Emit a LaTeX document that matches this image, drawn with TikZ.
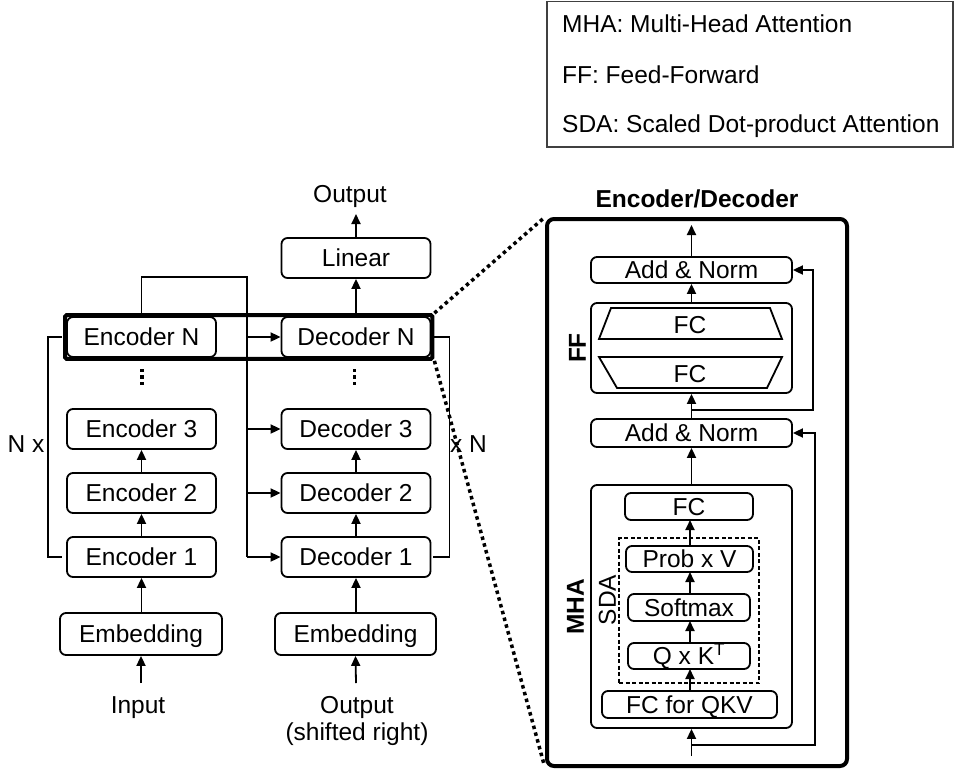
\documentclass[tikz,border=0pt]{standalone}
\usepackage{fontspec}
\setmainfont{Liberation Sans}
\usetikzlibrary{arrows.meta,fit}

\begin{document}
\begin{tikzpicture}[x=1pt,y=-1pt,
  font=\fontsize{24.5}{29}\selectfont,
  box/.style={draw, line width=1.8pt, rounded corners=6pt, inner sep=0pt,
              text height=17.5pt, text depth=0pt},
  stackbox/.style={box, minimum width=149pt, minimum height=40pt},
  embbox/.style={box, minimum width=162pt, minimum height=42pt},
  arr/.style={line width=1.8pt, -{Triangle[length=10pt,width=9pt]}},
  ln/.style={line width=1.8pt},
  zoomline/.style={line width=3.5pt, dash pattern=on 3.5pt off 3.5pt},
  lbl/.style={inner sep=0pt, anchor=base},
  rot/.style={inner sep=0pt, rotate=90, text height=17.5pt, text depth=0pt},
  legendtext/.style={inner sep=0pt, anchor=base west}]

\useasboundingbox (0,0) rectangle (954,772);

% ---------- legend ----------
\draw[line width=1.5pt, draw=black!75] (547,1.5) rectangle (953,147);
\node[legendtext] (lg1) at (562,32)  {MHA: Multi-Head Attention};
\node[legendtext] (lg2) at (562,83)  {FF: Feed-Forward};
\node[legendtext] (lg3) at (562,132) {SDA: Scaled Dot-product Attention};

% ---------- encoder stack ----------
\node[stackbox] (encN) at (141.5,337) {Encoder N};
\node[stackbox] (enc3) at (141.5,429) {Encoder 3};
\node[stackbox] (enc2) at (141.5,493) {Encoder 2};
\node[stackbox] (enc1) at (141.5,557) {Encoder 1};
\node[embbox]   (embL) at (141,634)   {Embedding};
\coordinate (inL) at (141,683);
\node[lbl] (input) at (138,713) {Input};

\draw[arr] (inL) -- (embL.south);
\draw[arr] (embL.north -| enc1.south) -- (enc1.south);
\draw[arr] (enc1) -- (enc2);
\draw[arr] (enc2) -- (enc3);

\foreach \yy in {370.5,377,383.5}
  \fill (140.3,\yy-1.6) rectangle (143.5,\yy+1.6);

% ---------- decoder stack ----------
\node[stackbox] (decN) at (356,337) {Decoder N};
\node[stackbox] (dec3) at (356,429) {Decoder 3};
\node[stackbox] (dec2) at (356,493) {Decoder 2};
\node[stackbox] (dec1) at (356,557) {Decoder 1};
\node[embbox, minimum width=161pt] (embR) at (355.5,634) {Embedding};
\node[stackbox] (linear) at (356,258) {Linear};
\coordinate (inR) at (356,683);
\coordinate (outL) at (356,214);
\node[lbl] (outtxt) at (350,202) {Output};
\node[lbl] (shift1) at (357,713) {Output};
\node[lbl] (shift2) at (357,740) {(shifted right)};

\draw[arr] (inR) -- (embR.south);
\draw[arr] (embR.north -| dec1.south) -- (dec1.south);
\draw[arr] (dec1) -- (dec2);
\draw[arr] (dec2) -- (dec3);
\draw[arr] (decN) -- (linear);
\draw[arr] (linear) -- (outL);

\foreach \yy in {370.5,377,383.5}
  \fill (352.8,\yy-1.6) rectangle (356,\yy+1.6);

% encoder output fed to every decoder
\coordinate (busT) at (247,277);
\coordinate (busB) at (247,557);
\draw[ln] (encN.north) |- (busT) -- (busB);
\draw[arr] (busB) -- (dec1.west);
\draw[arr] (busT |- dec2.west) -- (dec2.west);
\draw[arr] (busT |- dec3.west) -- (dec3.west);
\draw[arr] (busT |- decN.west) -- (decN.west);

% repetition brackets
\draw[ln] ([xshift=-4pt]encN.west) -- ++(-14,0) |- ([xshift=-4pt]enc1.west);
\draw[ln] ([xshift=2pt]decN.east) -- ++(16,0) |- ([xshift=2pt]dec1.east);
\node[lbl] (nxL) at (26,452) {N x};
\node[lbl, anchor=base west] (nxR) at (450,452) {x N};

% highlighted layer pair
\node[draw, line width=4pt, rounded corners=1.5pt, inner sep=1pt, fit=(encN)(decN)] (hl) {};

% ---------- expanded encoder/decoder layer ----------
\node[draw, line width=4pt, rounded corners=7pt, minimum width=300pt,
      minimum height=547pt, inner sep=0pt] (outer) at (697,492.5) {};
\node[lbl, font=\fontsize{24.5}{29}\selectfont\bfseries] (title) at (697,207) {Encoder/Decoder};

\draw[zoomline, shorten >=3pt] (hl.north east) -- (outer.north west);
\draw[zoomline, shorten >=3pt] (hl.south east) -- (outer.south west);

\node[box, minimum width=201pt, minimum height=26pt] (an2) at (691.5,270) {Add \& Norm};
\node[box, minimum width=201pt, minimum height=90pt] (ffbox) at (691.5,348) {};
\node[box, minimum width=201pt, minimum height=28pt] (an1) at (691.5,433) {Add \& Norm};
\node[box, minimum width=201pt, minimum height=243pt] (mha) at (691.5,606.5) {};

% feed-forward: two fully connected layers
\draw[line width=1.8pt] (611,308) -- (770,308) -- (782,339) -- (599,339) -- cycle;
\draw[line width=1.8pt] (599,357) -- (782,357) -- (767,388) -- (617,388) -- cycle;
\node[inner sep=0pt, text height=17.5pt, text depth=0pt] (fcA) at (690,325) {FC};
\node[inner sep=0pt, text height=17.5pt, text depth=0pt] (fcB) at (690,374) {FC};
\node[rot, font=\fontsize{24.5}{29}\selectfont\bfseries] (fflab) at (577,348) {FF};

% multi-head attention
\node[box, minimum width=128pt, minimum height=27pt] (fco) at (689,506.5) {FC};
\node[draw, line width=1.3pt, dash pattern=on 4pt off 2.5pt, minimum width=140pt,
      minimum height=145pt, inner sep=0pt] (sda) at (689,610.5) {};
\node[box, minimum width=127pt, minimum height=26pt] (probv) at (689.5,559) {Prob x V};
\node[box, minimum width=122pt, minimum height=27pt] (softmax) at (689,607.5) {Softmax};
\node[box, minimum width=122pt, minimum height=26pt] (qk) at (689,656) {Q x K\textsuperscript{T}};
\node[box, minimum width=175pt, minimum height=27pt] (fcqkv) at (689.5,704.5) {FC for QKV};
\node[rot, font=\fontsize{24.5}{29}\selectfont\bfseries] (mhalab) at (575,607) {MHA};
\node[rot] (sdalab) at (607,600) {SDA};

\draw[arr] (690,691) -- (690,669);
\draw[arr] (690,643) -- (690,621);
\draw[arr] (690,594) -- (690,572);
\draw[arr] (690,546) -- (690,520);

% main data path and residual connections
\coordinate (inM) at (691.5,756);
\coordinate (res1) at (691.5,745);
\coordinate (res2) at (691.5,410);
\coordinate (outM) at (691.5,225);
\draw[arr] (inM) -- (mha.south);
\draw[arr] (mha.north) -- (an1.south);
\draw[arr] (an1.north) -- (ffbox.south);
\draw[arr] (ffbox.north) -- (an2.south);
\draw[arr] (an2.north) -- (outM);
\draw[arr] (res1) -- ++(123.5,0) |- (an1.east);
\draw[arr] (res2) -- ++(121.5,0) |- (an2.east);

\end{tikzpicture}
\end{document}
